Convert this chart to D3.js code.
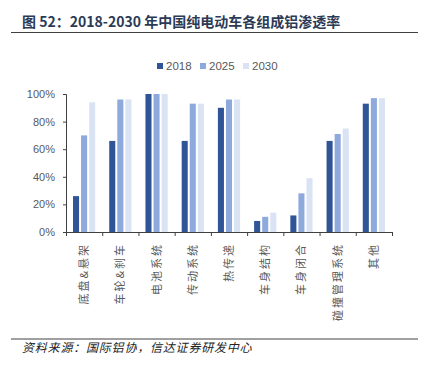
<!DOCTYPE html>
<head>
  <meta charset="utf-8">
  <script src="https://cdnjs.cloudflare.com/ajax/libs/d3/7.8.5/d3.min.js"></script>
</head>
<style>
  body { margin: 0; background: #fff; }
  text { font-family: "Liberation Sans", Arial, sans-serif; }
  .cjk { font-family: "Noto Sans CJK SC", sans-serif; }
  .axis path, .axis line { stroke: #404040; }
  .axis text { fill: #595959; font-size: 11px; }
</style>
<body>
  <svg width="422" height="368" viewBox="0 0 422 368" class="chart"></svg>
<script>
  const categories = ["底盘&悬架", "车轮&刹车", "电池系统", "传动系统", "热传递", "车身结构", "车身闭合", "碰撞管理系统", "其他"];
  const seriesNames = ["2018", "2025", "2030"];
  const v2018 = [26, 66, 100, 66, 90, 8, 12, 66, 93];
  const v2025 = [70, 96, 100, 93, 96, 11, 28, 71, 97];
  const v2030 = [94, 96, 100, 93, 96, 14, 39, 75, 97];
  const yTicks = [0, 20, 40, 60, 80, 100];
  const colors = ["#2F5597", "#8EA9DB", "#DAE3F3"];

  const values = [v2018, v2025, v2030];
  const svg = d3.select(".chart");

  // title
  svg.append("text").attr("class", "cjk")
    .attr("x", 22).attr("y", 27)
    .attr("font-size", 14).attr("font-weight", "bold").attr("fill", "#2B3A55")
    .text("图 52：2018-2030 年中国纯电动车各组成铝渗透率");
  svg.append("line").attr("x1", 11).attr("x2", 418).attr("y1", 32.5).attr("y2", 32.5)
    .attr("stroke", "#404040").attr("stroke-width", 1);

  const margin = {left: 66, right: 30, top: 94, bottom: 136};
  const width = 422 - margin.left - margin.right,
        height = 368 - margin.top - margin.bottom;

  const x = d3.scaleBand().domain(categories).range([0, width]);
  const y = d3.scaleLinear().domain([0, 100]).range([height, 0]);
  const xs = d3.scaleBand().domain(seriesNames).range([7, x.bandwidth() - 7]).paddingInner(0.25);

  const g = svg.append("g").attr("transform", "translate(" + margin.left + "," + margin.top + ")");

  seriesNames.forEach(function(s, si) {
    g.selectAll(".bar" + si)
      .data(categories)
      .enter().append("rect")
        .attr("x", function(d) { return x(d) + xs(s); })
        .attr("y", function(d, i) { return y(values[si][i]); })
        .attr("width", xs.bandwidth())
        .attr("height", function(d, i) { return height - y(values[si][i]); })
        .attr("fill", colors[si]);
  });

  // y axis
  const ya = g.append("g").attr("class", "axis")
    .call(d3.axisLeft(y).tickValues(yTicks).tickSize(3).tickPadding(8).tickFormat(function(d) { return d + "%"; }));
  ya.select(".domain").attr("d", "M-3,0.5H0.5V" + (height + 0.5));

  // x axis
  const xa = g.append("g").attr("class", "axis")
    .attr("transform", "translate(0," + height + ")");
  xa.append("line").attr("x1", 0).attr("x2", width).attr("y1", 0.5).attr("y2", 0.5).attr("stroke", "#404040");
  xa.selectAll(".sep")
    .data(categories.concat(["end"]))
    .enter().append("line")
      .attr("x1", function(d, i) { return i * x.step() + 0.5; })
      .attr("x2", function(d, i) { return i * x.step() + 0.5; })
      .attr("y1", 0).attr("y2", 4).attr("stroke", "#404040");
  xa.selectAll(".lbl")
    .data(categories)
    .enter().append("text").attr("class", "cjk")
      .attr("transform", function(d) { return "translate(" + (x(d) + x.bandwidth() / 2 + 4) + ",11) rotate(-90)"; })
      .attr("text-anchor", "end")
      .attr("font-size", 11).attr("fill", "#666")
      .attr("letter-spacing", 2)
      .text(function(d) { return d; });

  // legend
  const leg = svg.append("g").attr("transform", "translate(157,66)");
  seriesNames.forEach(function(s, i) {
    const lg = leg.append("g").attr("transform", "translate(" + (i * 43) + ",0)");
    lg.append("rect").attr("x", 0).attr("y", -3).attr("width", 6).attr("height", 6).attr("fill", colors[i]);
    lg.append("text").attr("x", 9).attr("y", 4).attr("font-size", 11.5).attr("fill", "#595959").text(s);
  });

  // source
  svg.append("line").attr("x1", 11).attr("x2", 418).attr("y1", 339).attr("y2", 339)
    .attr("stroke", "#404040").attr("stroke-width", 1);
  svg.append("text").attr("class", "cjk")
    .attr("x", 22).attr("y", 352)
    .attr("font-size", 12).attr("font-style", "italic").attr("fill", "#222")
    .attr("letter-spacing", 0.8)
    .text("资料来源：国际铝协，信达证券研发中心");
</script>
</body>
</html>
